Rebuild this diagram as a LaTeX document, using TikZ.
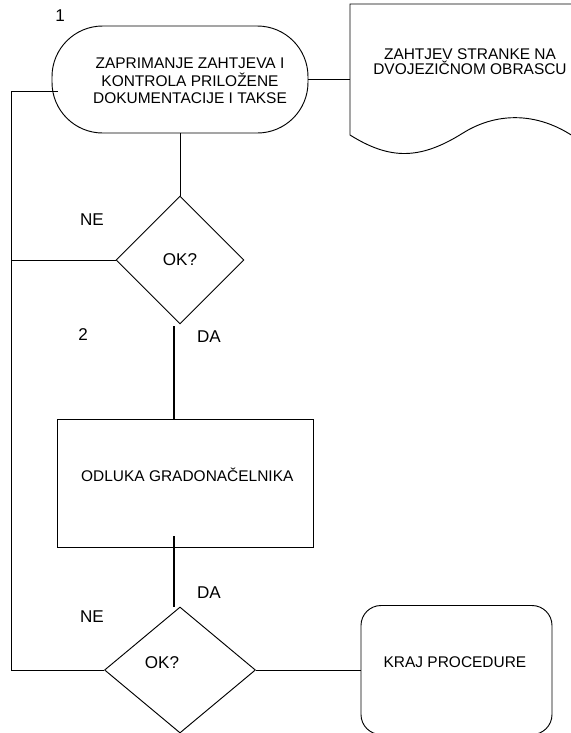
\documentclass[tikz,border=0pt]{standalone}
\usepackage{fontspec}
\setmainfont{Liberation Sans}
\usetikzlibrary{shapes.geometric,calc,positioning}
\tikzset{
    every node/.style={font=\fontsize{11.6}{13.1}\selectfont},
    tag/.style={font=\fontsize{12.8}{14}\selectfont},
    conn/.style={line width=0.7pt},
    heavy/.style={line width=1.5pt},
    terminal/.style={draw,line width=0.7pt,rounded corners=38pt,minimum width=192pt,minimum height=80.25pt},
    process/.style={draw,line width=0.7pt,minimum width=192pt,minimum height=96pt},
    decision/.style={draw,line width=0.7pt,diamond,inner sep=0pt,tag},
    endbox/.style={draw,line width=0.7pt,rounded corners=15pt,minimum width=143.25pt,minimum height=96.75pt},
}

\begin{document}
\begin{tikzpicture}[x=0.75pt,y=0.75pt,yscale=-1,xscale=1]
\useasboundingbox (0,0) rectangle (571,733);
%Terminal
\node[terminal,label={[shift={(10,-1.5)},align=center]center:ZAPRIMANJE ZAHTJEVA I\\KONTROLA PRILOŽENE\\DOKUMENTACIJE I TAKSE}] (term) at (180,79.5) {};
%Document
\draw[conn] (585,145) -- (585,4) -- (350,4) -- (350,135) .. controls (390,160) and (420,160) .. (463,133) .. controls (500,110) and (545,112) .. (585,145);
\node[align=center,font=\fontsize{11.6}{11.5}\selectfont] (doc) at (470,61.5) {ZAHTJEV STRANKE NA\\DVOJEZIČNOM OBRASCU};
\coordinate (docin) at (350,79.5);
%Decisions
\node[decision,minimum width=96pt,minimum height=96pt] (d1) at (180,260) {OK?};
\node[decision,minimum width=113.25pt,minimum height=94.5pt,label={[tag,shift={(-18,7)}]center:OK?}] (d2) at (180,670) {};
%Process
\node[process,label={[shift={(2,8)}]center:ODLUKA GRADONAČELNIKA}] (box) at (185.3,483) {};
%End
\node[endbox,label={[shift={(-1.5,7.5)}]center:KRAJ PROCEDURE}] (stop) at (456.5,670) {};
%Labels
\node[tag] (n1) at (60,16) {1};
\node[tag] (ne1) at (92,220) {NE};
\node[tag] (n2) at (83,335) {2};
\node[tag] (da1) at (209,337) {DA};
\node[tag] (da2) at (209,593) {DA};
\node[tag] (ne2) at (92,617) {NE};
%Connectors
\coordinate (rail) at (11,0);
\coordinate (termin) at ($(term.west)+(6,12)$);
\coordinate (dd1) at ($(d1.south)+(-6,2)$);
\coordinate (dd2) at ($(box.south)+(-11,-11)$);
\draw[conn] (term.east) -- (docin);
\draw[conn] (term.south) -- (d1.north);
\draw[conn] (d1.west) -- (d1.west -| rail);
\draw[conn] (d2.west) -- (d2.west -| rail) -- (rail |- termin) -- (termin);
\draw[heavy] (dd1) -- (dd1 |- box.north);
\draw[heavy] (dd2) -- (dd2 |- d2.north);
\draw[conn] (d2.east) -- (stop.west);
\end{tikzpicture}
\end{document}
